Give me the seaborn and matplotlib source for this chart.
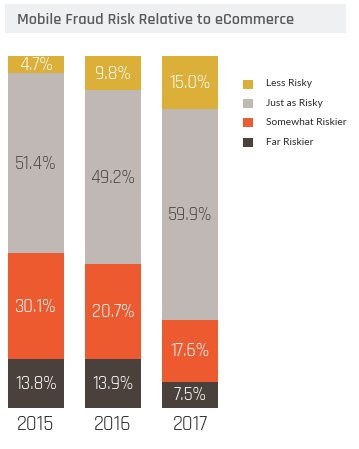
import matplotlib
matplotlib.use('Agg')
import matplotlib.pyplot as plt
import matplotlib.patches as mpatches
import seaborn as sns
import pandas as pd

years = ['2015', '2016', '2017']
series = ['Far Riskier', 'Somewhat Riskier', 'Just as Risky', 'Less Risky']
far_riskier = [13.8, 13.9, 7.5]
somewhat_riskier = [30.1, 20.7, 17.6]
just_as_risky = [51.4, 49.2, 59.9]
less_risky = [4.7, 9.8, 15.0]
# 2016 segment as drawn fills the bar to the top
somewhat_drawn = [30.1, 27.1, 17.6]

colors = {'Less Risky': '#dcb038', 'Just as Risky': '#bfb8b5',
          'Somewhat Riskier': '#ee5a2f', 'Far Riskier': '#4b413c'}
text_colors = {'Less Risky': 'white', 'Just as Risky': '#4f4a48',
               'Somewhat Riskier': 'white', 'Far Riskier': 'white'}

values = {'Far Riskier': far_riskier, 'Somewhat Riskier': somewhat_riskier,
          'Just as Risky': just_as_risky, 'Less Risky': less_risky}
heights = {'Far Riskier': far_riskier, 'Somewhat Riskier': somewhat_drawn,
           'Just as Risky': just_as_risky, 'Less Risky': less_risky}

sns.set_style('white')
num_font = ['Rajdhani', 'Barlow Condensed', 'Roboto Condensed', 'DejaVu Sans']
title_font = ['Rajdhani', 'Titillium Web', 'Roboto Condensed', 'DejaVu Sans']
legend_font = ['Lato', 'Open Sans', 'DejaVu Sans']
plt.rcParams['font.family'] = num_font

W, H = 359, 449
fig = plt.figure(figsize=(W / 100, H / 100), dpi=100)
ax = fig.add_axes([8 / W, 41 / H, 210 / W, 352 / H])

bottom = [0.0, 0.0, 0.0]
for s in series:
    df = pd.DataFrame({'year': years, 'value': heights[s]})
    sns.barplot(data=df, x='year', y='value', color=colors[s], width=0.727,
                bottom=bottom, ax=ax, saturation=1, linewidth=0)
    for i in range(3):
        ax.text(i, bottom[i] + heights[s][i] / 2, f'{values[s][i]:.1f}%',
                ha='center', va='center', fontsize=13.5, color=text_colors[s],
                family=num_font, weight='normal')
    bottom = [b + h for b, h in zip(bottom, heights[s])]

ax.set_xlim(-0.364, 2.364)
ax.set_ylim(0, 100)
ax.set_xlabel('')
ax.set_ylabel('')
ax.set_yticks([])
ax.tick_params(axis='x', length=0, pad=5, labelsize=15, labelcolor='#2f2f2f')
sns.despine(ax=ax, left=True, bottom=True)

# title box
fig.add_artist(mpatches.Rectangle((5 / W, 1 - 33 / H), 341 / W, 29 / H,
                                  transform=fig.transFigure, color='#eef0f2', lw=0))
fig.text(17 / W, 1 - 19 / H, 'Mobile Fraud Risk Relative to eCommerce',
         fontsize=11.8, color='#5a5a5a', va='center', ha='left',
         family=title_font, weight='semibold')

# legend
for k, s in enumerate(['Less Risky', 'Just as Risky', 'Somewhat Riskier', 'Far Riskier']):
    yc = 84 + k * 19.4
    fig.add_artist(mpatches.Rectangle((243 / W, 1 - (yc + 4.5) / H), 10 / W, 9 / H,
                                      transform=fig.transFigure, color=colors[s], lw=0))
    fig.text(266 / W, 1 - yc / H, s, fontsize=7.4, color='#2a2a2a', va='center',
             ha='left', family=legend_font)

fig.savefig('out.png', dpi=100, facecolor='white')
